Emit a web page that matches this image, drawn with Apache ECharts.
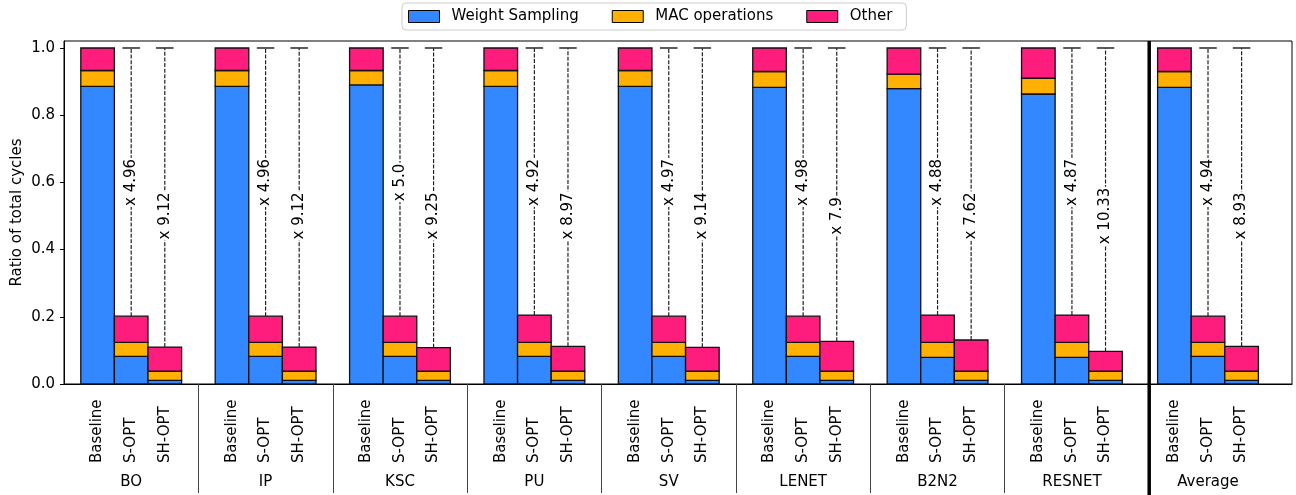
<!DOCTYPE html>
<html>
<head>
<meta charset="utf-8">
<script src="https://cdn.jsdelivr.net/npm/echarts@6/dist/echarts.min.js"></script>
<style>
html,body{margin:0;padding:0;background:#fff;}
#chart{width:1296px;height:495px;}
</style>
</head>
<body>
<div id="chart"></div>
<script>
// ---- data ----
const groups = ['BO', 'IP', 'KSC', 'PU', 'SV', 'LENET', 'B2N2', 'RESNET', 'Average'];
const variants = ['Baseline', 'S-OPT', 'SH-OPT'];
const seriesNames = ['Weight Sampling', 'MAC operations', 'Other'];
const yTicks = [0, 0.2, 0.4, 0.6, 0.8, 1.0];

const wsBaseline    = [0.886, 0.886, 0.890, 0.886, 0.886, 0.883, 0.879, 0.863, 0.883];
const macBaseline   = [0.047, 0.047, 0.043, 0.047, 0.047, 0.047, 0.043, 0.047, 0.047];
const otherBaseline = [0.067, 0.067, 0.067, 0.067, 0.067, 0.070, 0.078, 0.090, 0.070];

const wsSopt    = [0.082, 0.082, 0.082, 0.082, 0.082, 0.082, 0.079, 0.079, 0.082];
const macSopt   = [0.042, 0.042, 0.042, 0.042, 0.042, 0.042, 0.045, 0.045, 0.042];
const otherSopt = [0.078, 0.078, 0.078, 0.081, 0.078, 0.078, 0.081, 0.081, 0.078];

const wsShopt    = [0.011, 0.011, 0.011, 0.011, 0.011, 0.011, 0.011, 0.011, 0.011];
const macShopt   = [0.027, 0.027, 0.027, 0.027, 0.027, 0.027, 0.027, 0.027, 0.027];
const otherShopt = [0.072, 0.072, 0.070, 0.074, 0.071, 0.089, 0.093, 0.059, 0.074];

const speedupSopt  = ['4.96', '4.96', '5.0', '4.92', '4.97', '4.98', '4.88', '4.87', '4.94'];
const speedupShopt = ['9.12', '9.12', '9.25', '8.97', '9.14', '7.9', '7.62', '10.33', '8.93'];

// ---- layout helpers ----
const FONT = 'DejaVu Sans';
const colors = ['#3388ff', '#ffb000', '#fe1d7c'];
const X_MAX = 36.55, Y_MAX = 1.0208;
function groupStart(g) { return g < 8 ? 4 * g + 0.5 : 32.55; }
function barCenter(g, v) { return groupStart(g) + 0.5 + v; }
const thinSeps = [4, 8, 12, 16, 20, 24, 28];
const thickSep = 32.3;

const comps = [
  [wsBaseline, wsSopt, wsShopt],
  [macBaseline, macSopt, macShopt],
  [otherBaseline, otherSopt, otherShopt]
];

const barCenters = [], barNames = [], groupCenters = [], groupNamesAt = [];
groups.forEach((gName, g) => {
  variants.forEach((vName, v) => { barCenters.push(barCenter(g, v)); barNames.push(vName); });
  groupCenters.push(barCenter(g, 1)); groupNamesAt.push(gName);
});
function lookup(val, xs, names) {
  for (let i = 0; i < xs.length; i++) if (Math.abs(xs[i] - val) < 1e-6) return names[i];
  return '';
}

// stacked series data [x, bottom, top]
const stackSeries = seriesNames.map((name, s) => {
  const data = [];
  groups.forEach((gName, g) => {
    variants.forEach((vName, v) => {
      let bottom = 0;
      for (let k = 0; k < s; k++) bottom += comps[k][v][g];
      const top = bottom + comps[s][v][g];
      data.push([barCenter(g, v), bottom, top]);
    });
  });
  return {
    name: name,
    type: 'custom',
    itemStyle: { color: colors[s] },
    encode: { x: 0, y: [1, 2] },
    data: data,
    z: 2,
    renderItem: function (params, api) {
      const x = api.value(0), y0 = api.value(1), y1 = api.value(2);
      const p0 = api.coord([x, y0]), p1 = api.coord([x, y1]);
      const w = api.size([1, 0])[0];
      return {
        type: 'rect',
        shape: { x: p0[0] - w / 2, y: p1[1], width: w, height: p0[1] - p1[1] },
        style: { fill: api.visual('color'), stroke: '#111', lineWidth: 1.3 }
      };
    }
  };
});

// annotation data: [x, barTop, labelY]
const annData = [];
const annText = [];
groups.forEach((gName, g) => {
  [1, 2].forEach(v => {
    const top = comps[0][v][g] + comps[1][v][g] + comps[2][v][g];
    annData.push([barCenter(g, v), top, v === 1 ? 0.6 : 0.5]);
    annText.push('x ' + (v === 1 ? speedupSopt[g] : speedupShopt[g]));
  });
});

const annSeries = {
  name: 'speedup',
  type: 'custom',
  data: annData,
  encode: { x: 0, y: [1, 2] },
  z: 3,
  clip: false,
  silent: true,
  renderItem: function (params, api) {
    const x = api.value(0), top = api.value(1), ly = api.value(2);
    const pTop = api.coord([x, top]), pOne = api.coord([x, 1.0]), pLab = api.coord([x, ly]);
    const w = api.size([1, 0])[0];
    return {
      type: 'group',
      children: [
        { type: 'line', shape: { x1: pTop[0], y1: pTop[1], x2: pOne[0], y2: pOne[1] },
          style: { stroke: '#222', lineWidth: 1.2, lineDash: [4, 1.6] } },
        { type: 'line', shape: { x1: pOne[0] - w * 0.26, y1: pOne[1], x2: pOne[0] + w * 0.26, y2: pOne[1] },
          style: { stroke: '#333', lineWidth: 1.6 } },
        { type: 'text', x: pLab[0], y: pLab[1], rotation: Math.PI / 2,
          style: { text: annText[params.dataIndex], fill: '#000', font: '15px "DejaVu Sans"',
                   align: 'center', verticalAlign: 'middle', backgroundColor: '#fff', padding: [1, 1] } }
      ]
    };
  }
};

const sepSeries = {
  name: 'separator',
  type: 'custom',
  data: [[thickSep, 0]],
  encode: { x: 0, y: 1 },
  z: 4,
  clip: false,
  silent: true,
  renderItem: function (params, api) {
    const x = api.value(0);
    const pTop = api.coord([x, Y_MAX]), pBot = api.coord([x, 0]);
    return { type: 'line', shape: { x1: pTop[0], y1: pTop[1], x2: pBot[0], y2: pBot[1] + 112 },
             style: { stroke: '#000', lineWidth: 3.5 } };
  }
};

const chart = echarts.init(document.getElementById('chart'));
chart.setOption({
  backgroundColor: '#fff',
  animation: false,
  textStyle: { fontFamily: FONT },
  legend: {
    data: seriesNames,
    left: 402, top: 3,
    icon: 'rect',
    itemWidth: 31, itemHeight: 12,
    itemGap: 33,
    padding: [6, 14, 6, 6],
    borderColor: '#ccc', borderWidth: 1, borderRadius: 4,
    itemStyle: { borderColor: '#000', borderWidth: 1 },
    textStyle: { fontSize: 15, color: '#000', fontFamily: FONT, padding: [0, 0, 0, 7] }
  },
  grid: {
    left: 64, top: 41, width: 1228, height: 343,
    outerBoundsMode: 'none',
    containLabel: false,
    show: true, borderColor: '#000', borderWidth: 1, backgroundColor: 'transparent'
  },
  xAxis: [
    {
      type: 'value', min: 0, max: X_MAX, position: 'bottom',
      axisLine: { show: true, onZero: false, lineStyle: { color: '#000', width: 1 } },
      axisTick: { show: false },
      splitLine: { show: false },
      axisLabel: {
        customValues: barCenters,
        formatter: v => lookup(v, barCenters, barNames),
        rotate: 90, align: 'left', verticalAlign: 'middle', margin: 79,
        fontSize: 15, color: '#000', fontFamily: FONT
      }
    },
    {
      type: 'value', min: 0, max: X_MAX, position: 'bottom',
      axisLine: { show: false }, axisTick: { show: false }, splitLine: { show: false },
      axisLabel: {
        customValues: groupCenters,
        formatter: v => lookup(v, groupCenters, groupNamesAt),
        margin: 91, fontSize: 15, color: '#000', fontFamily: FONT
      }
    },
    {
      type: 'value', min: 0, max: X_MAX, position: 'bottom',
      axisLine: { show: false }, splitLine: { show: false },
      axisLabel: { show: false },
      axisTick: { show: true, customValues: thinSeps, length: 109, inside: false,
                  lineStyle: { color: '#444', width: 1 } }
    }
  ],
  yAxis: {
    type: 'value', min: 0, max: Y_MAX,
    name: 'Ratio of total cycles', nameLocation: 'middle', nameGap: 39,
    nameMoveOverlap: false,
    nameTextStyle: { fontSize: 15, color: '#000', fontFamily: FONT },
    axisLine: { show: true, lineStyle: { color: '#000' } },
    axisTick: { show: true, customValues: yTicks, length: 4, lineStyle: { color: '#000' } },
    splitLine: { show: false },
    axisLabel: { customValues: yTicks, formatter: v => v.toFixed(1), margin: 9,
                 fontSize: 15, color: '#000', fontFamily: FONT }
  },
  series: stackSeries.concat([annSeries, sepSeries])
});
</script>
</body>
</html>
